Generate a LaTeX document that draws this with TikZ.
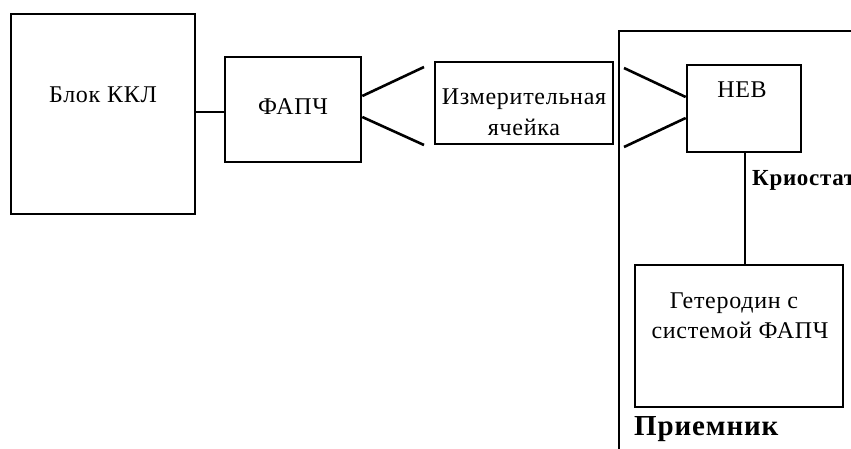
\documentclass[tikz,border=0pt]{standalone}
\usepackage{fontspec}
\setmainfont{Liberation Serif}
\newfontfamily\spacedserif{Liberation Serif}[LetterSpace=3.0]
\tikzset{
  box/.style={draw, line width=2.6pt, rectangle, inner sep=0pt},
  lbl/.style={anchor=base, inner sep=0pt, font=\spacedserif\fontsize{24}{28}\selectfont},
  blbl/.style={anchor=base west, inner sep=0pt, font=\spacedserif\bfseries\fontsize{#1}{#1}\selectfont},
  wire/.style={line width=2.6pt}
}
\begin{document}
\begin{tikzpicture}[x=1pt,y=-1pt]
\useasboundingbox (0,0) rectangle (851,448);
\clip (0,0) rectangle (851,448);
% boxes
\node[box, minimum width=184pt, minimum height=200pt] (kkl) at (103,114) {};
\node[box, minimum width=136pt, minimum height=105pt] (fapch) at (293,109.5) {};
\node[box, minimum width=178pt, minimum height=82pt] (cell) at (524,103) {};
\node[box, minimum width=114pt, minimum height=87pt] (heb) at (744,108.5) {};
\node[box, minimum width=208pt, minimum height=142pt] (het) at (739,336) {};
% texts
\node[lbl] (tkkl) at (103,102) {Блок ККЛ};
\node[lbl] (tfapch) at (293,114) {ФАПЧ};
\node[lbl] (tcell1) at (524,104) {Измерительная};
\node[lbl] (tcell2) at (524,135) {ячейка};
\node[lbl] (theb) at (742,97) {НЕВ};
\node[lbl] (thet1) at (734,308) {Гетеродин с};
\node[lbl] (thet2) at (740,338) {системой ФАПЧ};
\node[blbl=29] (tpr) at (634,435) {Приемник};
\node[blbl=23] (tkr) at (752,185) {Криостат};
% cryostat wall
\coordinate (wb) at (619,460);
\coordinate (wt) at (619,31);
\coordinate (wr) at (870,31);
\draw[wire] (wb) -- (wt) -- (wr);
% connectors
\draw[wire] (kkl.east |- 0,112) -- (fapch.west |- 0,112);
\coordinate (a1) at (424,67);
\coordinate (a2) at (424,145);
\draw[wire] (fapch.east |- 0,96) -- (a1);
\draw[wire] (fapch.east |- 0,117) -- (a2);
\coordinate (b1) at (624,68);
\coordinate (b2) at (624,147);
\draw[wire] (b1) -- (heb.west |- 0,97);
\draw[wire] (b2) -- (heb.west |- 0,118);
\draw[wire] (heb.south -| 745,0) -- (het.north -| 745,0);
\end{tikzpicture}
\end{document}
